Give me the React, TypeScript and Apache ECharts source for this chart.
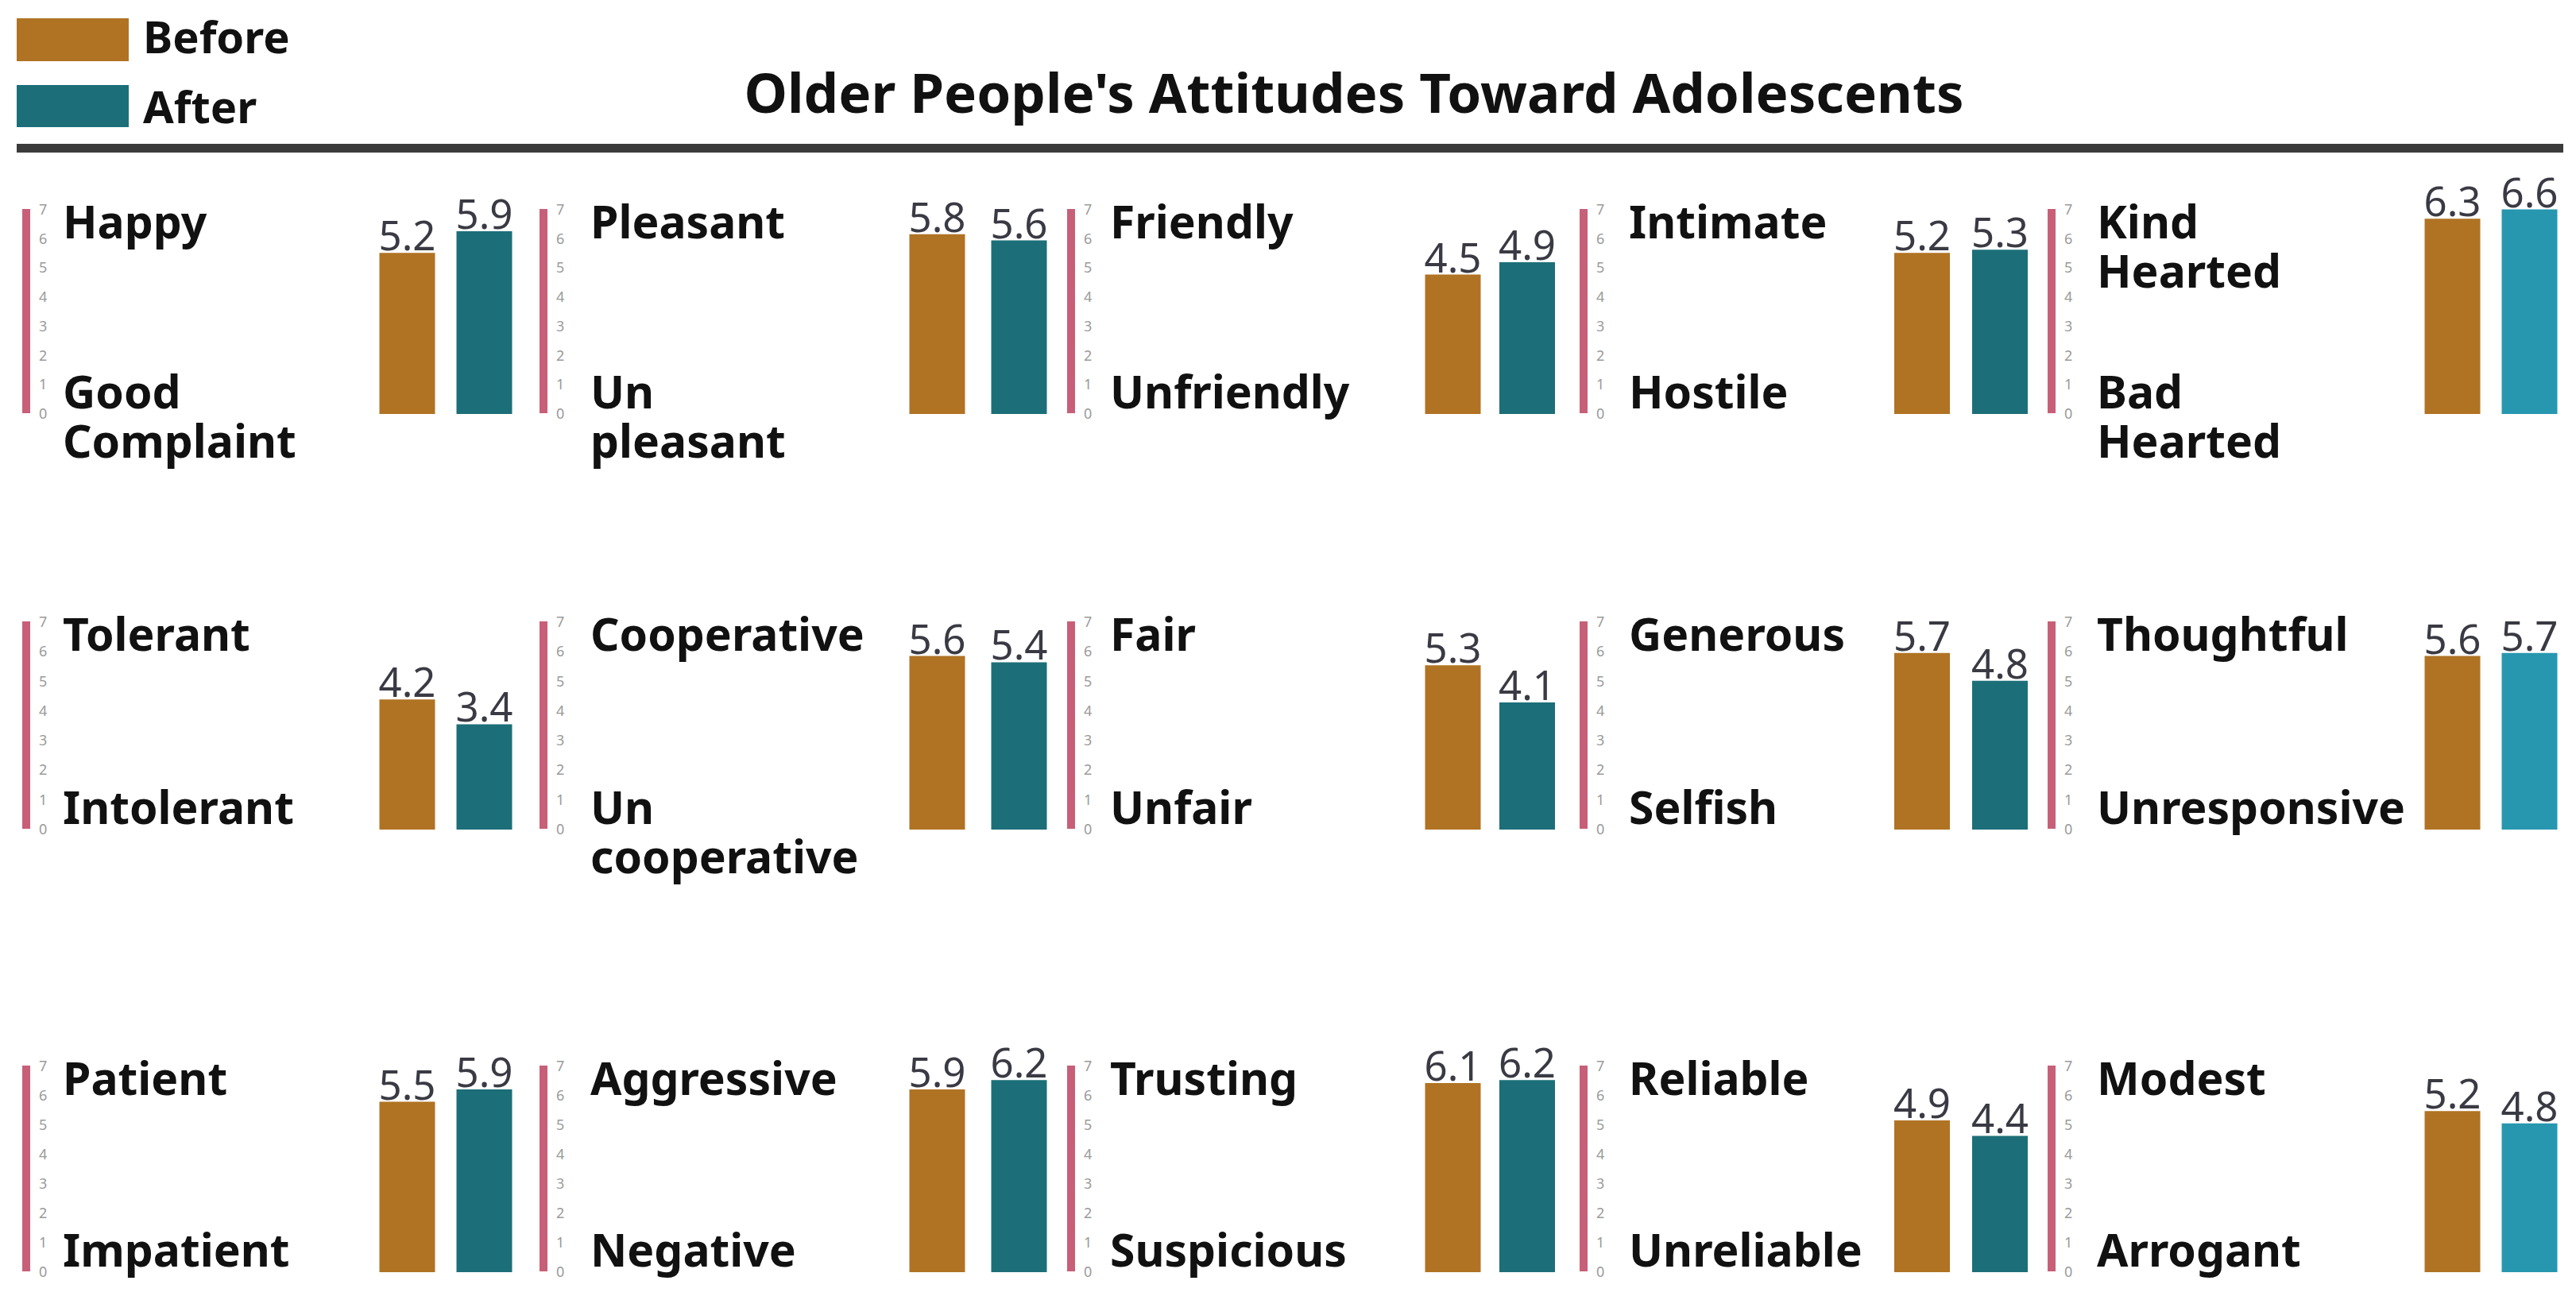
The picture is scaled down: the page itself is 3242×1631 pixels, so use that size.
import React, { useEffect, useRef } from "react";
import * as echarts from "echarts";

// ---------- data ----------
const topLabels = [
  "Happy", "Pleasant", "Friendly", "Intimate", "Kind\nHearted",
  "Tolerant", "Cooperative", "Fair", "Generous", "Thoughtful",
  "Patient", "Aggressive", "Trusting", "Reliable", "Modest",
];
const bottomLabels = [
  "Good\nComplaint", "Un\npleasant", "Unfriendly", "Hostile", "Bad\nHearted",
  "Intolerant", "Un\ncooperative", "Unfair", "Selfish", "Unresponsive",
  "Impatient", "Negative", "Suspicious", "Unreliable", "Arrogant",
];
const beforeValues = [5.2, 5.8, 4.5, 5.2, 6.3, 4.2, 5.6, 5.3, 5.7, 5.6, 5.5, 5.9, 6.1, 4.9, 5.2];
const afterValues = [5.9, 5.6, 4.9, 5.3, 6.6, 3.4, 5.4, 4.1, 4.8, 5.7, 5.9, 6.2, 6.2, 4.4, 4.8];
const seriesNames = ["Before", "After"];
const tickLabels = ["0", "1", "2", "3", "4", "5", "6", "7"];
const titleText = "Older People's Attitudes Toward Adolescents";

// ---------- layout / style ----------
const W = 3242;
const H = 1631;
const FONT = '"Noto Sans", "DejaVu Sans", sans-serif';
const C_BEFORE = "#b07323";
const C_AFTER = "#1c6f78";
const C_AFTER_LAST = "#2797b0";
const C_PINK = "#c85f78";
const C_RULE = "#3b3b3b";

const COL_AXIS_X = [28, 679, 1343, 1988, 2577];
const COL_LABEL_X = [79, 743, 1397, 2050, 2639];
const COL_BAR_CENTER = [
  [512.5, 609.5],
  [1179.5, 1282.5],
  [1828.5, 1922],
  [2419, 2517],
  [3086.5, 3183.5],
];
const ROW_TOP = [263, 782, 1341];
const ROW_BOTTOM = [520, 1043, 1600];
const AXIS_W = 10;
const BAR_W = 70;
const PX_PER_UNIT = 39;
const LABEL_FS = 57;
const LINE_GAP = 62;

// text whose first line has its baseline at `baseline`; further lines stack below
function textEl(text: string, x: number, baseline: number, fs: number, weight: string, color: string, align = "left", lh = LINE_GAP) {
  return {
    type: "text",
    x,
    y: baseline - fs * 0.36 - lh / 2,
    silent: true,
    style: {
      text,
      fontSize: fs,
      lineHeight: lh,
      fontWeight: weight,
      fontFamily: FONT,
      fill: color,
      align,
      verticalAlign: "top",
    },
  };
}

function buildOption() {
  const grids: any[] = [];
  const xAxes: any[] = [];
  const yAxes: any[] = [];
  const series: any[] = [];
  const graphics: any[] = [];

  // legend
  graphics.push({ type: "rect", shape: { x: 21, y: 23, width: 141, height: 54 }, style: { fill: C_BEFORE } });
  graphics.push({ type: "rect", shape: { x: 21, y: 107, width: 141, height: 53 }, style: { fill: C_AFTER } });
  graphics.push(textEl(seriesNames[0], 180, 65, 56, "bold", "#111111"));
  graphics.push(textEl(seriesNames[1], 180, 153, 56, "bold", "#111111"));
  // title
  graphics.push(textEl(titleText, 1704, 140, 69, "bold", "#111111", "center", 72));
  // rule
  graphics.push({ type: "rect", shape: { x: 21, y: 181, width: 3205, height: 11 }, style: { fill: C_RULE } });

  for (let i = 0; i < 15; i++) {
    const row = Math.floor(i / 5);
    const col = i % 5;
    const top = ROW_TOP[row];
    const bottom = ROW_BOTTOM[row];

    // pink scale axis
    const gAxis = grids.length;
    grids.push({ left: COL_AXIS_X[col] + AXIS_W / 2, top, width: 20, height: bottom - top, containLabel: false });
    xAxes.push({ gridIndex: gAxis, type: "value", show: false, min: 0, max: 1 });
    yAxes.push({
      gridIndex: gAxis,
      type: "value",
      min: 0,
      max: 7,
      interval: 1,
      position: "left",
      axisLine: { show: true, lineStyle: { color: C_PINK, width: AXIS_W, cap: "butt" } },
      axisTick: { show: false },
      splitLine: { show: false },
      axisLabel: {
        show: true,
        inside: true,
        margin: 16,
        fontSize: 18,
        lineHeight: 18,
        fontFamily: FONT,
        color: "#9a9a9a",
        formatter: (v: number) => tickLabels[v] ?? "",
      },
    });
    series.push({ type: "scatter", xAxisIndex: gAxis, yAxisIndex: gAxis, data: [], silent: true });

    // bars
    const [c0, c1] = COL_BAR_CENTER[col];
    const d = c1 - c0;
    const gBar = grids.length;
    const barHeight = PX_PER_UNIT * 7;
    grids.push({ left: c0 - d / 2, top: bottom + 1 - barHeight, width: d * 2, height: barHeight, containLabel: false });
    xAxes.push({ gridIndex: gBar, type: "category", data: seriesNames, show: false });
    yAxes.push({ gridIndex: gBar, type: "value", min: 0, max: 7, show: false, splitLine: { show: false } });
    series.push({
      type: "bar",
      name: topLabels[i].replace("\n", " "),
      xAxisIndex: gBar,
      yAxisIndex: gBar,
      barWidth: BAR_W,
      data: [
        { value: beforeValues[i], itemStyle: { color: C_BEFORE } },
        { value: afterValues[i], itemStyle: { color: col === 4 ? C_AFTER_LAST : C_AFTER } },
      ],
      label: {
        show: true,
        position: "top",
        distance: 0,
        fontSize: 51,
        lineHeight: 46,
        fontFamily: FONT,
        color: "#3a3a44",
        formatter: (p: any) => Number(p.value).toFixed(1),
      },
    });

    // text labels
    const lx = COL_LABEL_X[col];
    graphics.push(textEl(topLabels[i], lx, top + 36, LABEL_FS, "bold", "#111111"));
    graphics.push(textEl(bottomLabels[i], lx, bottom - 7, LABEL_FS, "bold", "#111111"));
  }

  return {
    animation: false,
    backgroundColor: "#ffffff",
    grid: grids,
    xAxis: xAxes,
    yAxis: yAxes,
    series,
    graphic: graphics,
  };
}

export default function App() {
  const ref = useRef<HTMLDivElement>(null);
  useEffect(() => {
    document.body.style.margin = "0";
    if (!ref.current) return;
    const chart = echarts.init(ref.current, undefined, { renderer: "svg", width: W, height: H });
    chart.setOption(buildOption() as any);
    return () => chart.dispose();
  }, []);
  return <div ref={ref} style={{ width: W, height: H, position: "absolute", left: 0, top: 0 }} />;
}
